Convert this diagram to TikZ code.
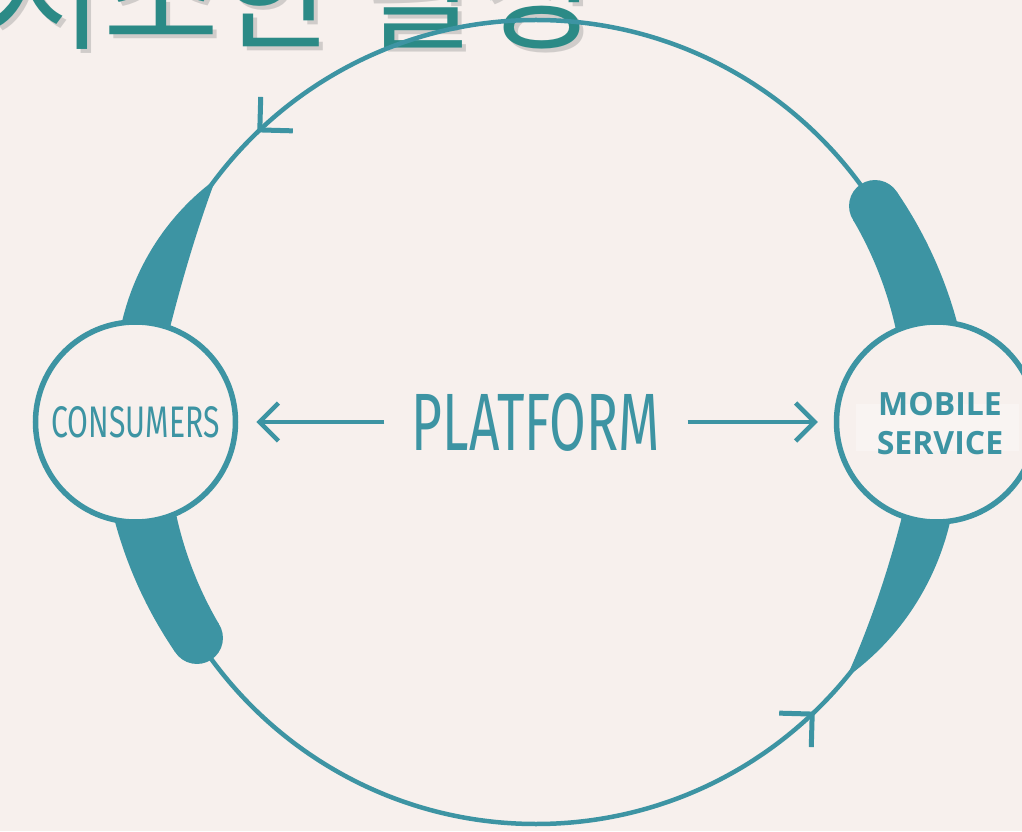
\documentclass[tikz,border=0pt]{standalone}
\usepackage{fontspec}
\usepackage{graphicx}
\usetikzlibrary{arrows.meta}
\newfontfamily\cjkfont{Noto Sans CJK KR}
\newfontfamily\condfont{Fira Sans}
\newfontfamily\mobfont{Open Sans}
\definecolor{bgc}{HTML}{F7F0ED}
\definecolor{tealc}{HTML}{3D94A3}
\definecolor{titlec}{HTML}{2B8A86}
\definecolor{shadowc}{HTML}{8A8A8A}
\begin{document}
\begin{tikzpicture}[x=1pt,y=1pt,
  ring/.style={draw=tealc, line width=4.5pt},
  band/.style={fill=tealc},
  arm/.style={draw=tealc, line width=5pt},
  hub/.style={circle, draw=tealc, line width=5.5pt, fill=bgc, minimum size=200pt, inner sep=0pt, text=tealc},
  flow/.style={draw=tealc, line width=4.5pt, -{Straight Barb[length=19pt,width=38pt]}},
  titletext/.style={anchor=base west, inner sep=0pt, font=\cjkfont\fontsize{126}{134}\selectfont}
]
\useasboundingbox (0,0) rectangle (1022,831);
\fill[bgc] (0,0) rectangle (1022,831);
\clip (0,0) rectangle (1022,831);

% title (cut off at the top)
\node[titletext, text=shadowc, text opacity=0.35] (titleshadow) at (-9,787) {저조한 활성};
\node[titletext, text=titlec] (title) at (-13,791) {저조한 활성};

\begin{scope}[shift={(536,409)}]
  \draw[ring] (0,0) circle (402pt);
  % upper-left tapered band
  \fill[band] plot[domain=0:1.3, samples=50, variable=\s]
    ({(403.5+22.5*(1-(1-min(\s,1))^2))*cos(143.6+22.2*\s)}, {(403.5+22.5*(1-(1-min(\s,1))^2))*sin(143.6+22.2*\s)})
    -- plot[domain=1.3:0, samples=50, variable=\s]
    ({(400.5-22.5*(1-(1-min(\s,1))^2))*cos(143.6+22.2*\s)}, {(400.5-22.5*(1-(1-min(\s,1))^2))*sin(143.6+22.2*\s)}) -- cycle;
  % lower-right tapered band
  \fill[band] plot[domain=0:1.3, samples=50, variable=\s]
    ({(403.5+22.5*(1-(1-min(\s,1))^2))*cos(321.4+24.4*\s)}, {(403.5+22.5*(1-(1-min(\s,1))^2))*sin(321.4+24.4*\s)})
    -- plot[domain=1.3:0, samples=50, variable=\s]
    ({(400.5-22.5*(1-(1-min(\s,1))^2))*cos(321.4+24.4*\s)}, {(400.5-22.5*(1-(1-min(\s,1))^2))*sin(321.4+24.4*\s)}) -- cycle;
  % upper-right thick band
  \fill[band] plot[domain=0:1, samples=40, variable=\s]
    ({(402+32-6*\s)*cos(8+24.5*\s)}, {(402+32-6*\s)*sin(8+24.5*\s)})
    -- plot[domain=1:0, samples=40, variable=\s]
    ({(402-32+6*\s)*cos(8+24.5*\s)}, {(402-32+6*\s)*sin(8+24.5*\s)}) -- cycle;
  \fill[band] (32.5:402) circle (26pt);
  % lower-left thick band
  \fill[band] plot[domain=0:1, samples=40, variable=\s]
    ({(402+32-6*\s)*cos(188+24.5*\s)}, {(402+32-6*\s)*sin(188+24.5*\s)})
    -- plot[domain=1:0, samples=40, variable=\s]
    ({(402-32+6*\s)*cos(188+24.5*\s)}, {(402-32+6*\s)*sin(188+24.5*\s)}) -- cycle;
  \fill[band] (212.5:402) circle (26pt);
  % open arrowheads on the ring
  \coordinate (tipA) at (133.4:402);
  \coordinate (tipB) at (-46.6:402);
  \draw[arm] (tipA) ++(88.4:33) -- (tipA) -- ++(-1.6:33);
  \draw[arm] (tipB) ++(178.4:33) -- (tipB) -- ++(268.4:33);
\end{scope}

% hubs
\node[hub] (consumers) at (135.5,409) {\condfont\resizebox{168pt}{31pt}{CONSUMERS}};
\node[hub] (mobile) at (936.5,409) {};
\fill[white, opacity=0.3] (856,380) rectangle (1019,427);
\node[text=tealc, align=center, inner sep=0pt, font=\mobfont\bfseries\fontsize{32}{39}\selectfont] (mobiletext) at (940,407) {MOBILE\\SERVICE};

% platform and arrows
\node[text=tealc, inner xsep=27.5pt, inner ysep=0pt] (platform) at (536,409) {\condfont\resizebox{248pt}{57pt}{PLATFORM}};
\draw[flow, shorten >=18pt] (platform.west) -- (consumers.east);
\draw[flow, shorten >=16pt] (platform.east) -- (mobile.west);
\end{tikzpicture}
\end{document}
